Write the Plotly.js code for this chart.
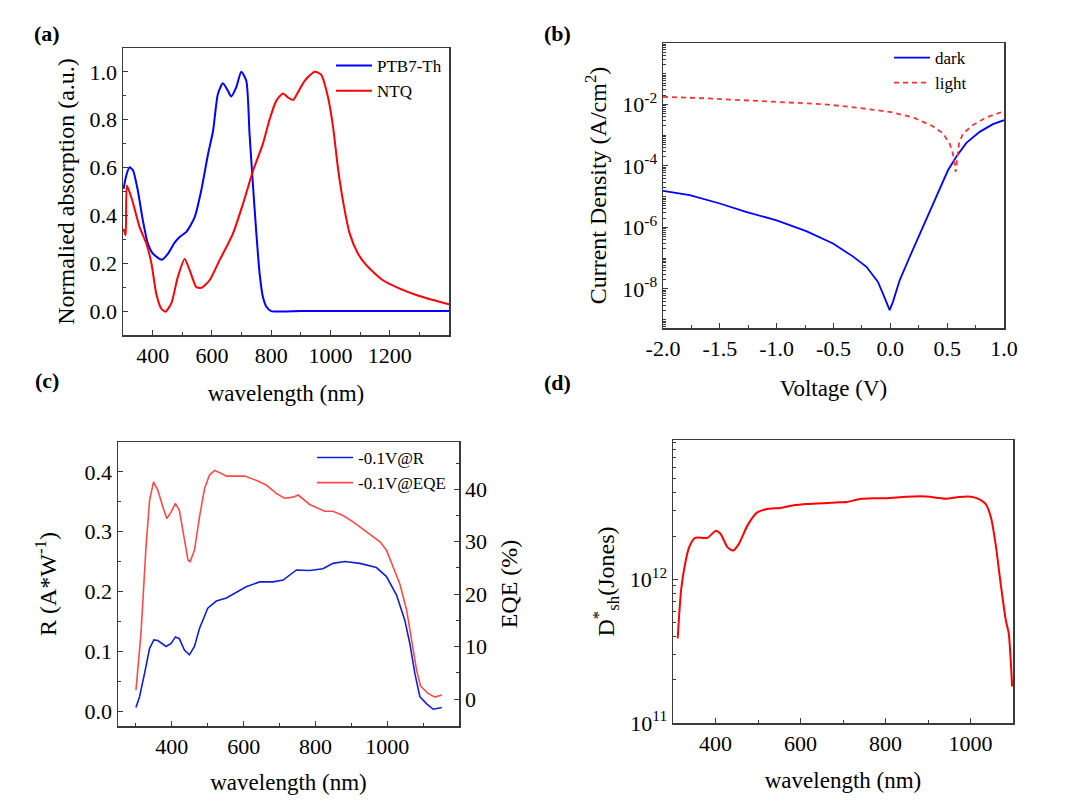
<!DOCTYPE html>
<html>
<head>
<meta charset="utf-8">
<script src="https://cdn.plot.ly/plotly-3.0.1.min.js"></script>
<style>html,body{margin:0;padding:0;background:#fff;}#chart{width:1080px;height:810px;}</style>
</head>
<body>
<div id="chart"></div>
<script>
// ---------- Panel (a): normalized absorption ----------
const absWavePTB = [302,311,322,334,350,367,384,401,431,452,474,491,514,542,564,587,604,620,637,654,665,682,699,716,727,739,750,761,772,784,800,900,1000,1100,1200,1300,1400];
const absPTB     = [0.511,0.567,0.601,0.588,0.504,0.379,0.282,0.240,0.215,0.240,0.286,0.310,0.331,0.393,0.504,0.657,0.754,0.907,0.953,0.921,0.897,0.935,1.001,0.963,0.740,0.518,0.324,0.157,0.060,0.018,0.0,0.0,0.0,0.0,0.0,0.0,0.0];
const absWaveNTQ = [302,309,313,328,339,356,379,396,412,429,443,463,485,508,525,547,564,592,626,671,705,739,772,795,817,840,857,874,890,913,947,969,992,1009,1025,1042,1065,1093,1121,1177,1234,1290,1346,1400];
const absNTQ     = [0.344,0.317,0.525,0.476,0.428,0.351,0.282,0.199,0.074,0.011,-0.003,0.032,0.143,0.218,0.171,0.101,0.097,0.129,0.213,0.324,0.449,0.588,0.699,0.803,0.879,0.910,0.893,0.883,0.914,0.963,1.001,0.988,0.893,0.768,0.601,0.463,0.324,0.240,0.192,0.129,0.094,0.067,0.046,0.028];

// ---------- Panel (b): J-V curves ----------
const voltDark = [-2.0,-1.765,-1.50,-1.27,-1.0,-0.74,-0.504,-0.33,-0.21,-0.109,-0.065,-0.006,0.023,0.082,0.17,0.287,0.405,0.507,0.58,0.669,0.786,0.903,1.0];
const logJDark = [-4.81,-4.95,-5.22,-5.49,-5.77,-6.12,-6.52,-6.94,-7.28,-7.77,-8.15,-8.69,-8.42,-7.72,-6.96,-5.98,-5.01,-4.14,-3.70,-3.25,-2.89,-2.64,-2.51];
const voltLight = [-2.0,-1.62,-1.03,-0.59,-0.30,-0.006,0.20,0.375,0.463,0.522,0.55,0.575,0.587,0.604,0.64,0.727,0.845,1.0];
const logJLight = [-1.75,-1.80,-1.91,-1.99,-2.10,-2.24,-2.42,-2.71,-2.94,-3.27,-3.59,-4.19,-3.80,-3.27,-2.94,-2.67,-2.42,-2.22];
const voltTicks = [-2.0,-1.5,-1.0,-0.5,0.0,0.5,1.0];
const voltTickText = ['-2.0','-1.5','-1.0','-0.5','0.0','0.5','1.0'];

// ---------- Panel (c): responsivity & EQE ----------
const respWave = [300,310,324,338,350,361,384,398,410,421,435,449,463,477,500,524,552,580,607,645,682,710,747,784,821,849,882,924,970,998,1026,1049,1063,1077,1091,1110,1128,1152];
const respR    = [0.006,0.024,0.063,0.105,0.119,0.118,0.108,0.113,0.124,0.121,0.102,0.094,0.108,0.138,0.172,0.184,0.189,0.199,0.208,0.216,0.216,0.219,0.236,0.235,0.238,0.247,0.250,0.247,0.240,0.225,0.194,0.152,0.113,0.063,0.024,0.012,0.003,0.006];
const eqeWave  = [300,314,328,338,349,361,375,386,398,410,421,433,445,451,463,477,491,505,519,538,552,570,603,635,663,691,714,738,752,784,812,826,849,877,905,933,961,980,998,1021,1035,1054,1068,1082,1093,1114,1133,1152];
const eqeVal   = [1.7,12.5,29.0,37.9,41.4,39.8,36.6,34.4,35.7,37.3,36.0,30.9,26.5,26.2,28.4,34.7,40.1,42.7,43.6,43.0,42.5,42.5,42.5,41.7,40.8,39.2,38.3,38.5,38.9,37.1,36.3,35.8,35.8,35.0,33.8,32.4,30.9,30.0,28.4,24.6,22.0,17.0,11.2,5.5,2.5,1.1,0.4,0.8];

// ---------- Panel (d): specific detectivity ----------
const detWave = [311,319,327,338,352,381,401,412,428,441,455,475,498,522,553,584,615,654,693,709,740,771,802,849,896,927,942,973,1001,1020,1036,1048,1059,1071,1083,1090,1098];
const detLog  = [11.589,11.924,12.085,12.224,12.289,12.289,12.339,12.316,12.224,12.200,12.247,12.374,12.466,12.490,12.497,12.515,12.524,12.529,12.536,12.538,12.559,12.564,12.564,12.575,12.577,12.566,12.561,12.573,12.575,12.559,12.524,12.432,12.247,11.970,11.716,11.624,11.254];

const darkJ  = logJDark.map(v => Math.pow(10, v));
const lightJ = logJLight.map(v => Math.pow(10, v));
const detVal = detLog.map(v => Math.pow(10, v));

const W = 1080, H = 810;
const dx = (a, b) => [a / W, b / W];
const dy = (top, bottom) => [1 - bottom / H, 1 - top / H];
const FONT = 'Liberation Serif';
const AXC = '#3a3a3a';
const tickFont = {family: FONT, size: 22, color: '#000'};
const titleFont = {family: FONT, size: 23, color: '#000'};
const ytitleFont = {family: FONT, size: 24, color: '#000'};
const legFont = {family: FONT, size: 17, color: '#000'};

function axBase(extra) {
  return Object.assign({
    showgrid: false, zeroline: false, showline: true, linecolor: AXC, linewidth: 1.5,
    mirror: true, ticks: 'inside', ticklen: 5, tickwidth: 1, tickcolor: AXC,
    tickfont: tickFont, automargin: false, fixedrange: true
  }, extra);
}
const minorTicks = d => ({ticks: 'inside', ticklen: 3, tickcolor: AXC, dtick: d, tick0: 0});

const supExp = n => '10<sup>' + n + '</sup>';

const traces = [
  {x: absWavePTB, y: absPTB, name: 'PTB7-Th', type: 'scatter', mode: 'lines', line: {color: '#0000ff', width: 2, shape: 'spline', smoothing: 0.6}, xaxis: 'x', yaxis: 'y', legend: 'legend'},
  {x: absWaveNTQ, y: absNTQ, name: 'NTQ', type: 'scatter', mode: 'lines', line: {color: '#ff0000', width: 2, shape: 'spline', smoothing: 0.6}, xaxis: 'x', yaxis: 'y', legend: 'legend'},
  {x: voltDark, y: darkJ, name: 'dark', type: 'scatter', mode: 'lines', line: {color: '#0000ff', width: 1.8}, xaxis: 'x2', yaxis: 'y2', legend: 'legend2'},
  {x: voltLight, y: lightJ, name: 'light', type: 'scatter', mode: 'lines', line: {color: '#ff3333', width: 1.8, dash: '5px,4px'}, xaxis: 'x2', yaxis: 'y2', legend: 'legend2'},
  {x: respWave, y: respR, name: '-0.1V@R', type: 'scatter', mode: 'lines', line: {color: '#1020d0', width: 1.6}, xaxis: 'x3', yaxis: 'y3', legend: 'legend3'},
  {x: eqeWave, y: eqeVal, name: '-0.1V@EQE', type: 'scatter', mode: 'lines', line: {color: '#ff4a4a', width: 1.6}, xaxis: 'x3', yaxis: 'y5', legend: 'legend3'},
  {x: detWave, y: detVal, name: 'D*', type: 'scatter', mode: 'lines', line: {color: '#ff0000', width: 2, shape: 'spline', smoothing: 0.6}, xaxis: 'x4', yaxis: 'y4', showlegend: false}
];

const layout = {
  width: W, height: H,
  margin: {l: 0, r: 0, t: 0, b: 0},
  paper_bgcolor: '#fff', plot_bgcolor: '#fff',
  font: {family: FONT, color: '#000'},
  // (a)
  xaxis: axBase({domain: dx(123, 449), range: [300, 1400], tickvals: [400, 600, 800, 1000, 1200],
    minor: minorTicks(100),
    title: {text: 'wavelength (nm)', font: titleFont, standoff: 18}, anchor: 'y'}),
  yaxis: axBase({domain: dy(48, 335), range: [-0.1, 1.1], dtick: 0.2, tick0: 0, tickformat: '.1f',
    minor: minorTicks(0.1),
    title: {text: 'Normalied absorption (a.u.)', font: ytitleFont, standoff: 8}, anchor: 'x'}),
  // (b)
  xaxis2: axBase({domain: dx(663, 1004), range: [-2, 1], tickmode: 'array', tickvals: voltTicks, ticktext: voltTickText,
    minor: minorTicks(0.25),
    title: {text: 'Voltage (V)', font: titleFont, standoff: 20}, anchor: 'y2'}),
  yaxis2: axBase({domain: dy(43, 328), type: 'log', range: [-9.27, 0.0],
    tickvals: [1e-8, 1e-6, 1e-4, 1e-2], ticktext: [supExp(-8), supExp(-6), supExp(-4), supExp(-2)],
    minor: {ticks: 'inside', ticklen: 3, tickcolor: AXC, dtick: 'D1'},
    title: {text: 'Current Density (A/cm<sup>2</sup>)', font: ytitleFont, standoff: 9}, anchor: 'x2'}),
  // (c)
  xaxis3: axBase({domain: dx(118, 459), range: [250, 1200], tickvals: [400, 600, 800, 1000],
    minor: minorTicks(100),
    title: {text: 'wavelength (nm)', font: titleFont, standoff: 16}, anchor: 'y3'}),
  yaxis3: axBase({domain: dy(442, 726), range: [-0.025, 0.45], dtick: 0.1, tick0: 0, tickformat: '.1f',
    minor: minorTicks(0.05),
    title: {text: 'R (A*W<sup>-1</sup>)', font: ytitleFont, standoff: 21}, anchor: 'x3'}),
  yaxis5: axBase({domain: dy(442, 726), range: [-5.1, 49], dtick: 10, tick0: 0, side: 'right', overlaying: 'y3', mirror: false,
    minor: minorTicks(5),
    title: {text: 'EQE (%)', font: ytitleFont, standoff: 14}, anchor: 'x3'}),
  // (d)
  xaxis4: axBase({domain: dx(673, 1013), range: [300, 1100], tickvals: [400, 600, 800, 1000],
    minor: minorTicks(100),
    title: {text: 'wavelength (nm)', font: titleFont, standoff: 17}, anchor: 'y4'}),
  yaxis4: axBase({domain: dy(440, 723), type: 'log', range: [11, 12.97],
    tickvals: [1e11, 1e12], ticktext: [supExp(11), supExp(12)],
    minor: {ticks: 'inside', ticklen: 3, tickcolor: AXC, dtick: 'D1'},
    title: {text: 'D<sup>*</sup><sub>sh</sub>(Jones)', font: ytitleFont, standoff: 8}, anchor: 'x4'}),
  legend: {x: 331 / W, y: 1 - 48 / H, xanchor: 'left', yanchor: 'top', bgcolor: 'rgba(0,0,0,0)', borderwidth: 0, font: legFont, itemwidth: 36},
  legend2: {x: 889 / W, y: 1 - 40 / H, xanchor: 'left', yanchor: 'top', bgcolor: 'rgba(0,0,0,0)', borderwidth: 0, font: legFont, itemwidth: 36},
  legend3: {x: 312 / W, y: 1 - 440 / H, xanchor: 'left', yanchor: 'top', bgcolor: 'rgba(0,0,0,0)', borderwidth: 0, font: legFont, itemwidth: 36},
  annotations: [
    {text: '<b>(a)</b>', x: 47 / W, y: 1 - 33 / H, xanchor: 'center', yanchor: 'middle'},
    {text: '<b>(b)</b>', x: 557 / W, y: 1 - 33 / H, xanchor: 'center', yanchor: 'middle'},
    {text: '<b>(c)</b>', x: 47 / W, y: 1 - 381 / H, xanchor: 'center', yanchor: 'middle'},
    {text: '<b>(d)</b>', x: 557 / W, y: 1 - 383 / H, xanchor: 'center', yanchor: 'middle'}
  ].map(a => Object.assign({xref: 'paper', yref: 'paper', showarrow: false, font: {family: FONT, size: 22, color: '#000'}}, a)),
  showlegend: true
};

Plotly.newPlot('chart', traces, layout, {staticPlot: true, displayModeBar: false});
</script>
</body>
</html>
